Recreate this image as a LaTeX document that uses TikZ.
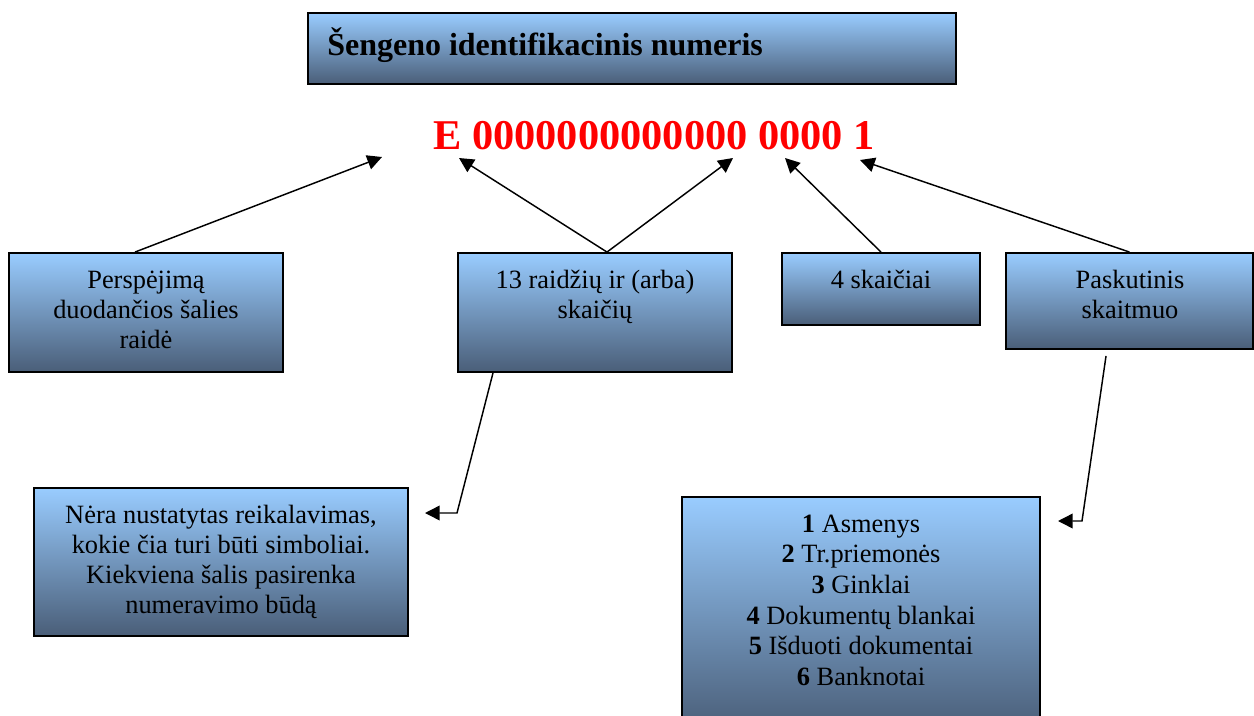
\documentclass[tikz,border=0pt]{standalone}
\usepackage{fontspec}
\setmainfont{Liberation Serif}
\usetikzlibrary{arrows.meta}
\definecolor{boxtop}{HTML}{99CCFF}
\definecolor{boxbot}{HTML}{4A5E78}
\definecolor{codered}{HTML}{FF0000}
\begin{document}
\begin{tikzpicture}[x=0.75pt,y=-0.75pt,
  box/.style={rectangle,draw=black,line width=1.4pt,top color=boxtop,bottom color=boxbot,inner sep=0pt},
  txt/.style={anchor=north,inner sep=0pt,align=center,font=\fontsize{19.8}{22.5}\selectfont},
  arr/.style={line width=1.1pt,-{Triangle[length=11pt,width=11pt]}}]
\useasboundingbox (0,0) rectangle (1254,715);
\clip (0,0) rectangle (1254,715);
% title
\node[box,minimum width=486pt,minimum height=53.25pt] (title) at (632,48.5) {};
\node[anchor=base west,inner sep=0pt,font=\fontsize{24}{28}\selectfont\bfseries] (titletext) at (327,55) {Šengeno identifikacinis numeris};
\node[anchor=base,inner sep=0pt,text=codered,font=\fontsize{31.8}{36}\selectfont\bfseries] (code) at (654,149) {E 0000000000000 0000 1};
% boxes
\node[box,minimum width=205.5pt,minimum height=89.25pt] (b1) at (146,312.5) {};
\node[box,minimum width=205.5pt,minimum height=89.25pt] (b2) at (595,312.5) {};
\node[box,minimum width=148.5pt,minimum height=54pt] (b3) at (881,289) {};
\node[box,minimum width=185.25pt,minimum height=72pt] (b4) at (1129.5,301) {};
\node[box,minimum width=280.5pt,minimum height=111pt] (b5) at (221,562) {};
\node[box,minimum width=268.5pt,minimum height=174.75pt] (b6) at (861,613.5) {};
% texts
\node[txt] (t1) at (146,268) {\rule{0pt}{15pt}Perspėjimą\\duodančios šalies\\raidė};
\node[txt] (t2) at (595,268) {\rule{0pt}{15pt}13 raidžių ir (arba)\\skaičių};
\node[txt] (t3) at (881,268) {\rule{0pt}{15pt}4 skaičiai};
\node[txt] (t4) at (1130,268) {\rule{0pt}{15pt}Paskutinis\\skaitmuo};
\node[txt] (t5) at (221,503) {\rule{0pt}{15pt}Nėra nustatytas reikalavimas,\\kokie čia turi būti simboliai.\\Kiekviena šalis pasirenka\\numeravimo būdą};
\node[txt,font=\fontsize{19.8}{23}\selectfont] (t6) at (861,512) {\rule{0pt}{15pt}\textbf{1} Asmenys\\\textbf{2} Tr.priemonės\\\textbf{3} Ginklai\\\textbf{4} Dokumentų blankai\\\textbf{5} Išduoti dokumentai\\\textbf{6} Banknotai};
% arrow targets
\coordinate (pE) at (382,157);
\coordinate (pA) at (459,158);
\coordinate (pB) at (733,158);
\coordinate (pC) at (785,158);
\coordinate (pD) at (860,160);
\coordinate (k1) at (457,513);
\coordinate (k1tip) at (425,513);
\coordinate (k2) at (1082,521);
\coordinate (k2tip) at (1058,521);
% connectors
\draw[arr] ([xshift=-8.25pt]b1.north) -- (pE);
\draw[arr] ([xshift=9pt]b2.north) -- (pA);
\draw[arr] ([xshift=9pt]b2.north) -- (pB);
\draw[arr] (b3.north) -- (pC);
\draw[arr] (b4.north) -- (pD);
\draw[arr] ([xshift=-76.5pt]b2.south) -- (k1) -- (k1tip);
\draw[arr] ([xshift=-17.6pt,yshift=-4.5pt]b4.south) -- (k2) -- (k2tip);
\end{tikzpicture}
\end{document}
